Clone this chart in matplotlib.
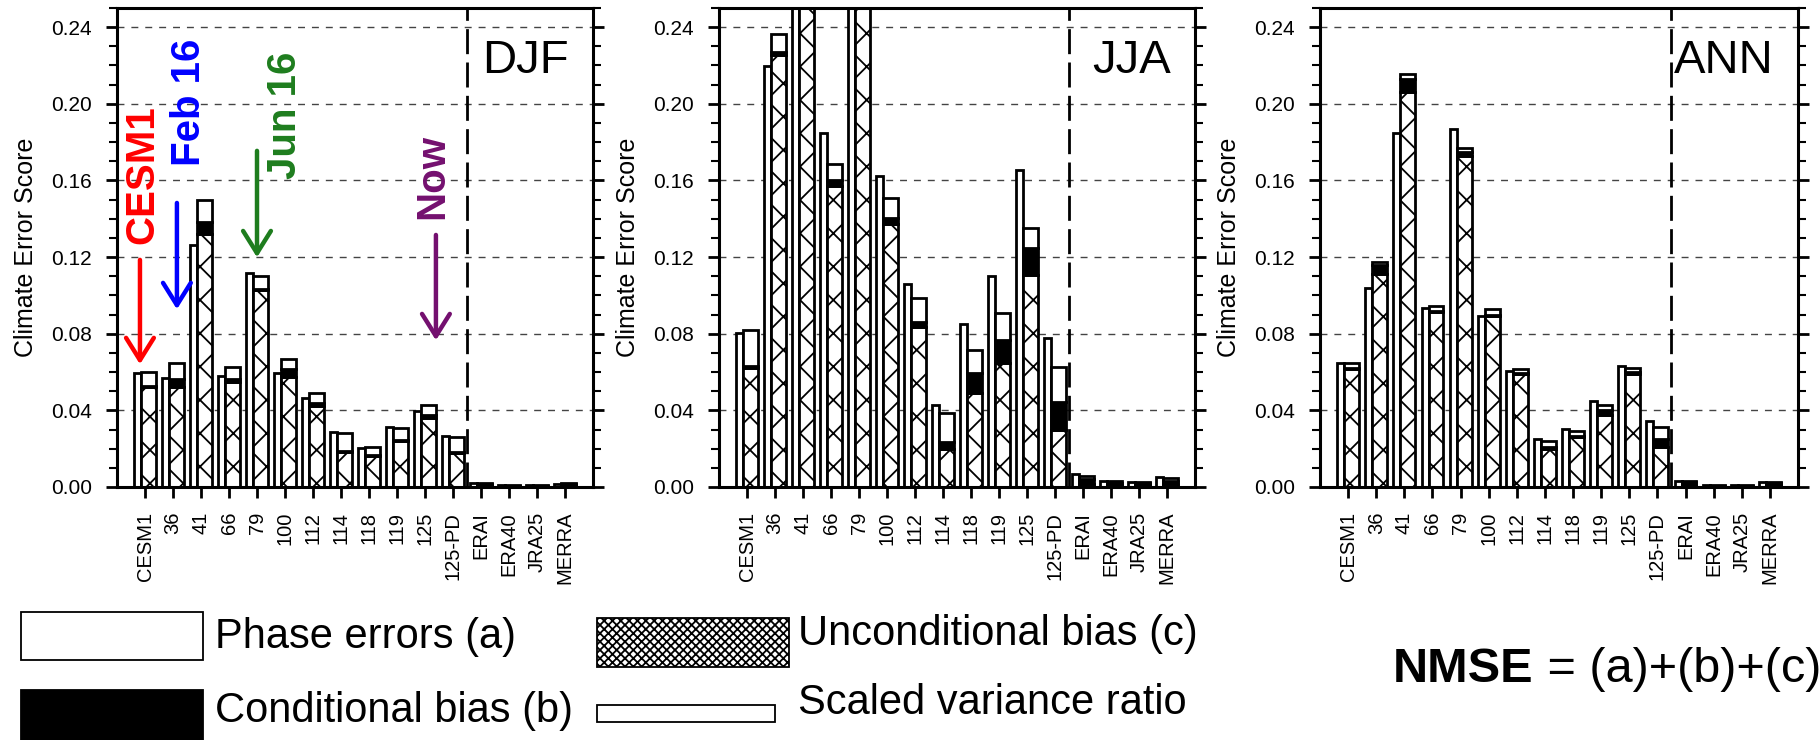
import matplotlib
matplotlib.use('Agg')
import matplotlib.pyplot as plt
import numpy as np
from matplotlib.patches import Rectangle
from matplotlib import font_manager

plt.rcParams['font.family'] = ['Liberation Sans', 'DejaVu Sans']
plt.rcParams['hatch.linewidth'] = 1.3

models = ['CESM1', '36', '41', '66', '79', '100', '112', '114', '118', '119',
          '125', '125-PD', 'ERAI', 'ERA40', 'JRA25', 'MERRA']
yticks = [0.00, 0.04, 0.08, 0.12, 0.16, 0.20, 0.24]
ytick_labels = ['0.00', '0.04', '0.08', '0.12', '0.16', '0.20', '0.24']

# DJF
djf_svr = [0.0593, 0.0571, 0.1263, 0.0581, 0.1115, 0.0593, 0.0463, 0.0289,
           0.0202, 0.0315, 0.0398, 0.0266, 0.0020, 0.0008, 0.0008, 0.0018]
djf_c = [0.0520, 0.0520, 0.1323, 0.0550, 0.1030, 0.0576, 0.0423, 0.0184,
         0.0160, 0.0240, 0.0358, 0.0176, 0.0010, 0.0004, 0.0004, 0.0010]
djf_b = [0.0005, 0.0042, 0.0061, 0.0012, 0.0006, 0.0038, 0.0017, 0.0005,
         0.0005, 0.0005, 0.0018, 0.0005, 0.0007, 0.0003, 0.0003, 0.0006]
djf_a = [0.0077, 0.0087, 0.0113, 0.0062, 0.0067, 0.0054, 0.0052, 0.0091,
         0.0042, 0.0061, 0.0052, 0.0078, 0.0006, 0.0003, 0.0003, 0.0006]

# JJA
jja_svr = [0.0802, 0.2196, 0.3000, 0.1849, 0.3200, 0.1624, 0.1058, 0.0428,
           0.0850, 0.1101, 0.1657, 0.0776, 0.0068, 0.0030, 0.0028, 0.0051]
jja_c = [0.0619, 0.2254, 0.3000, 0.1570, 0.3100, 0.1372, 0.0833, 0.0197,
         0.0492, 0.0645, 0.1106, 0.0297, 0.0015, 0.0010, 0.0009, 0.0015]
jja_b = [0.0010, 0.0017, 0.0040, 0.0032, 0.0040, 0.0030, 0.0030, 0.0039,
         0.0104, 0.0122, 0.0139, 0.0148, 0.0025, 0.0012, 0.0011, 0.0018]
jja_a = [0.0193, 0.0091, 0.0100, 0.0083, 0.0100, 0.0104, 0.0122, 0.0152,
         0.0119, 0.0142, 0.0105, 0.0183, 0.0019, 0.0009, 0.0008, 0.0012]

# ANN
ann_svr = [0.0645, 0.1040, 0.1849, 0.0932, 0.1871, 0.0892, 0.0605, 0.0249,
           0.0303, 0.0449, 0.0631, 0.0346, 0.0030, 0.0008, 0.0008, 0.0025]
ann_c = [0.0615, 0.1111, 0.2063, 0.0915, 0.1727, 0.0895, 0.0590, 0.0200,
         0.0260, 0.0376, 0.0590, 0.0210, 0.0012, 0.0003, 0.0003, 0.0010]
ann_b = [0.0005, 0.0047, 0.0064, 0.0005, 0.0022, 0.0005, 0.0005, 0.0010,
         0.0008, 0.0026, 0.0008, 0.0039, 0.0012, 0.0003, 0.0003, 0.0010]
ann_a = [0.0025, 0.0018, 0.0028, 0.0024, 0.0018, 0.0029, 0.0019, 0.0032,
         0.0024, 0.0026, 0.0024, 0.0066, 0.0009, 0.0002, 0.0002, 0.0008]

seasons = ['DJF', 'JJA', 'ANN']

# season label font: condensed if available
names = {f.name for f in font_manager.fontManager.ttflist}
if 'Liberation Sans Narrow' in names:
    season_family, season_size = 'Liberation Sans Narrow', 40
else:
    season_family, season_size = 'Liberation Sans', 34

W, H = 1819, 740
fig = plt.figure(figsize=(W / 100, H / 100), dpi=100)
fig.patch.set_facecolor('white')

panel_px = [(117, 593), (719, 1195), (1320, 1798)]
data = [(djf_svr, djf_c, djf_b, djf_a),
        (jja_svr, jja_c, jja_b, jja_a),
        (ann_svr, ann_c, ann_b, ann_a)]

top_px, bot_px = 8, 487
x = np.arange(len(models))
axes = []
for (l, r), season, (svr, c, b, a) in zip(panel_px, seasons, data):
    ax = fig.add_axes([l / W, 1 - bot_px / H, (r - l) / W, (bot_px - top_px) / H])
    axes.append(ax)
    c = np.array(c); b = np.array(b); a = np.array(a)
    lw = 2.0
    ax.bar(x - 0.265, svr, width=0.25, color='white', edgecolor='black', linewidth=lw, zorder=2)
    ax.bar(x + 0.125, c, width=0.53, color='white', edgecolor='black', hatch='x', linewidth=lw, zorder=2)
    ax.bar(x + 0.125, b, width=0.53, bottom=c, color='black', edgecolor='black', linewidth=lw, zorder=2)
    ax.bar(x + 0.125, a, width=0.53, bottom=c + b, color='white', edgecolor='black', linewidth=lw, zorder=2)

    ax.set_xlim(-1, 16)
    ax.set_ylim(0, 0.25)
    ax.set_yticks(yticks)
    ax.set_yticklabels(ytick_labels, fontsize=15)
    ax.set_yticks(np.arange(0, 0.2501, 0.01), minor=True)
    ax.set_xticks(x)
    ax.set_xticklabels(models, rotation=90, fontsize=14.5)
    ax.tick_params(axis='y', which='major', direction='out', length=8, width=2, pad=10,
                   left=True, right=True)
    ax.tick_params(axis='y', which='minor', direction='out', length=6, width=1.5,
                   left=True, right=True)
    ax.tick_params(axis='x', which='major', direction='out', length=8, width=2, pad=10)
    for s in ax.spines.values():
        s.set_linewidth(2.2)
    ax.set_axisbelow(True)
    ax.yaxis.grid(True, which='major', linestyle=(0, (5, 5)), color='#444444', linewidth=1.0)
    ax.axvline(11.5, color='black', linewidth=2, dashes=(9, 3), zorder=3)
    ax.set_ylabel('Climate Error Score', fontsize=18)
    ax.yaxis.set_label_coords(-0.166, 0.5)
    ax.text(0.95, 0.889, season, transform=ax.transAxes, ha='right', va='center',
            fontsize=season_size, family=season_family)

# annotations on DJF
ax0 = axes[0]
ann = [('CESM1', '#ff0000', -0.11, 0.163, -0.18, 0.120, 0.0626),
       ('Feb 16', '#0000ff', 1.57, 0.2009, 1.14, 0.1497, 0.0913),
       ('Jun 16', '#1e7d1e', 5.0, 0.194, 4.0, 0.1769, 0.1184),
       ('Now', '#74106f', 10.25, 0.162, 10.39, 0.133, 0.0751)]
for txt, col, tx, ty, axx, y0, y1 in ann:
    ax0.text(tx, ty, txt, rotation=90, color=col, fontsize=29, fontweight='bold',
             ha='center', va='center', zorder=5)
    ax0.annotate('', xy=(axx, y1), xytext=(axx, y0),
                 arrowprops=dict(arrowstyle='->, head_length=0.8, head_width=0.5',
                                 color=col, lw=3.2, mutation_scale=20), zorder=5)


def fx(px):
    return px / W


def fy(py):
    return 1 - py / H


def box(x0, y0, x1, y1, **kw):
    fig.add_artist(Rectangle((fx(x0), fy(y1)), fx(x1) - fx(x0), fy(y0) - fy(y1),
                             transform=fig.transFigure, **kw))


box(21, 612, 203, 660, facecolor='white', edgecolor='black', linewidth=1.3)
fig.text(fx(215), fy(637), 'Phase errors (a)', fontsize=30, va='center', ha='left')
box(21, 690, 203, 740, facecolor='black', edgecolor='black', linewidth=1.3)
fig.text(fx(215), fy(711), 'Conditional bias (b)', fontsize=30, va='center', ha='left')
box(597, 618, 789, 667, facecolor='white', edgecolor='black', linewidth=1.3, hatch='xxxx')
fig.text(fx(798), fy(634), 'Unconditional bias (c)', fontsize=30, va='center', ha='left')
box(597, 705, 775, 722, facecolor='white', edgecolor='black', linewidth=1.3)
fig.text(fx(798), fy(703), 'Scaled variance ratio', fontsize=30, va='center', ha='left')

t1 = fig.text(fx(1393), fy(670), 'NMSE', fontsize=35, fontweight='bold', va='center', ha='left')
fig.canvas.draw()
bb = t1.get_window_extent(renderer=fig.canvas.get_renderer())
fig.text(bb.x1 / W, fy(670), ' = (a)+(b)+(c)', fontsize=35, va='center', ha='left')

fig.savefig('out.png', dpi=100, facecolor='white')
